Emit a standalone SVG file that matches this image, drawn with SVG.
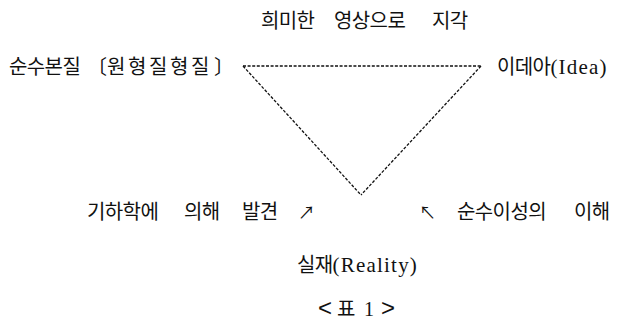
<svg xmlns="http://www.w3.org/2000/svg" width="620" height="326" viewBox="0 0 620 326">
<style>
.t{font-family:"Liberation Serif","Noto Sans CJK KR",serif;font-size:20px;letter-spacing:-0.6px;fill:#111}
.lat{font-size:21px;letter-spacing:1.2px}
.arr{font-family:"Noto Sans CJK KR","DejaVu Sans",sans-serif;font-size:17px}
.br{font-family:"Liberation Sans",sans-serif;font-size:24px}
.edge{fill:none;stroke:#111;stroke-width:1.3;stroke-dasharray:3 1.6}
</style>
<rect width="620" height="326" fill="#fff"/>
<g id="connectors">
<path class="edge" d="M243,66 L481,66"/>
<path class="edge" d="M243,66 L361,195"/>
<path class="edge" d="M481,66 L361,195"/>
</g>
<g id="node-top-label">
<text class="t" y="28"><tspan x="261">희미한</tspan> <tspan x="334">영상으로</tspan> <tspan x="432">지각</tspan></text>
</g>
<g id="node-essence">
<text class="t" y="74"><tspan x="9">순수본질</tspan> <tspan x="87 107 128 149 170 191 214">〔원형질형질〕</tspan></text>
</g>
<g id="node-idea">
<text class="t" y="74"><tspan x="497">이데아</tspan><tspan class="lat">(Idea)</tspan></text>
</g>
<g id="label-geometry">
<text class="t" y="219"><tspan x="87">기하학에</tspan> <tspan x="184">의해</tspan> <tspan x="242">발견</tspan> <tspan x="298" class="arr">↗</tspan></text>
</g>
<g id="label-reason">
<text class="t" y="219"><tspan x="419" class="arr">↖</tspan> <tspan x="457">순수이성의</tspan> <tspan x="574">이해</tspan></text>
</g>
<g id="node-reality">
<text class="t" y="272"><tspan x="297">실재</tspan><tspan class="lat">(Reality)</tspan></text>
</g>
<g id="caption">
<text class="t" y="316"><tspan x="318" class="br">&lt;</tspan><tspan x="337">표</tspan> <tspan x="364">1</tspan><tspan x="381" class="br">&gt;</tspan></text>
</g>
</svg>
